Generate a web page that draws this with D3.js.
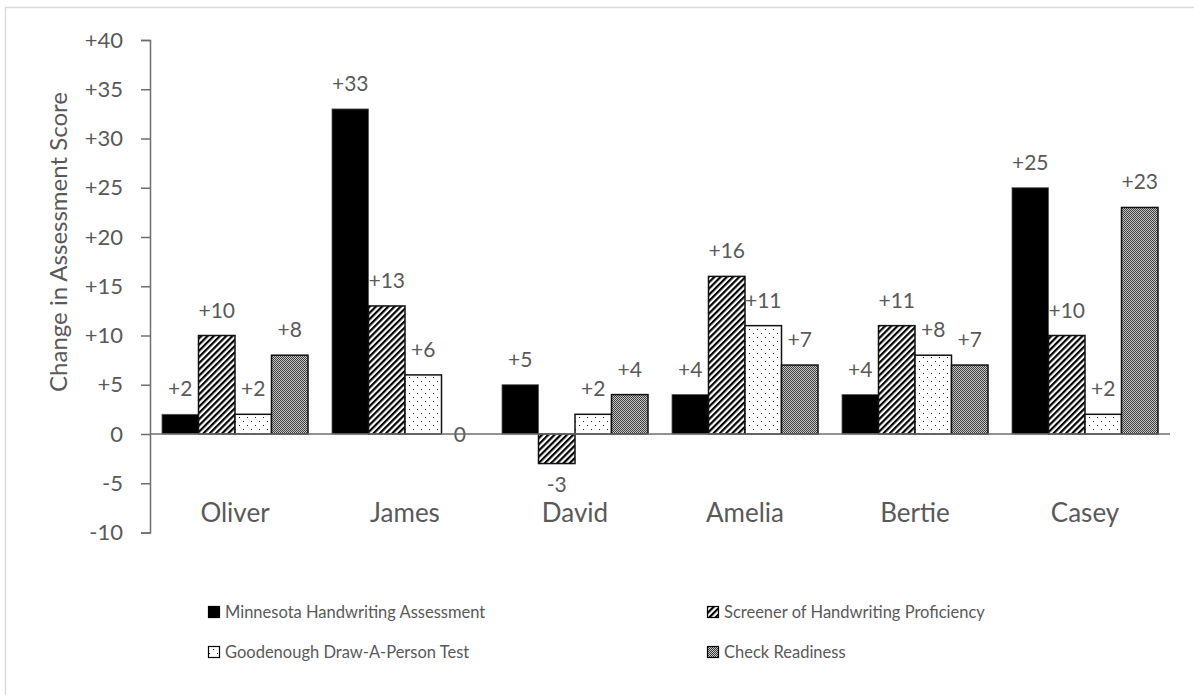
<!DOCTYPE html>
<html>
<head>
<meta charset="utf-8">
<script src="https://cdn.jsdelivr.net/npm/d3@7"></script>
<style>
  html, body { margin: 0; padding: 0; background: #fff; }
  svg { display: block; }
  text { font-family: Lato, "Open Sans", sans-serif; fill: #595959; }
</style>
</head>
<body>
<svg id="chart" width="1194" height="695"></svg>
<script>
// Students and assessment score changes (pre to post)
const students = ["Oliver", "James", "David", "Amelia", "Bertie", "Casey"];
const seriesNames = [
  "Minnesota Handwriting Assessment",
  "Screener of Handwriting Proficiency",
  "Goodenough Draw-A-Person Test",
  "Check Readiness"
];
const minnesota = [2, 33, 5, 4, 4, 25];
const screener  = [10, 13, -3, 16, 11, 10];
const goodenough = [2, 6, 2, 11, 8, 2];
const readiness = [8, 0, 4, 7, 7, 23];
const seriesValues = [minnesota, screener, goodenough, readiness];
const yTicks = [-10, -5, 0, 5, 10, 15, 20, 25, 30, 35, 40];

const svg = d3.select("#chart");

// Outer chart frame (left and top edges visible)
svg.append("rect")
  .attr("x", 5.5).attr("y", 7.5)
  .attr("width", 1300).attr("height", 800)
  .attr("fill", "none").attr("stroke", "#d9d9d9").attr("stroke-width", 1.5);

// Fill patterns
const defs = svg.append("defs");

const hatch = defs.append("pattern")
  .attr("id", "hatch").attr("patternUnits", "userSpaceOnUse")
  .attr("width", 4.4).attr("height", 10)
  .attr("patternTransform", "rotate(45)");
hatch.append("rect").attr("width", 4.4).attr("height", 10).attr("fill", "#fff");
hatch.append("line").attr("x1", 1.1).attr("x2", 1.1).attr("y1", 0).attr("y2", 10)
  .attr("stroke", "#000").attr("stroke-width", 2.2);

const dots = defs.append("pattern")
  .attr("id", "dots").attr("patternUnits", "userSpaceOnUse")
  .attr("width", 8).attr("height", 8);
dots.append("rect").attr("width", 8).attr("height", 8).attr("fill", "#fff");
dots.append("rect").attr("x", 1).attr("y", 1).attr("width", 1).attr("height", 1).attr("fill", "#222");
dots.append("rect").attr("x", 5).attr("y", 5).attr("width", 1).attr("height", 1).attr("fill", "#222");

const check = defs.append("pattern")
  .attr("id", "check").attr("patternUnits", "userSpaceOnUse")
  .attr("width", 2).attr("height", 2);
check.append("rect").attr("width", 2).attr("height", 2).attr("fill", "#c8c8c8");
check.append("rect").attr("x", 0).attr("y", 0).attr("width", 1).attr("height", 1).attr("fill", "#3c3c3c");
check.append("rect").attr("x", 1).attr("y", 1).attr("width", 1).attr("height", 1).attr("fill", "#3c3c3c");

const fills = ["#000", "url(#hatch)", "url(#dots)", "url(#check)"];

// Scales
const x0 = d3.scaleBand().domain(students).range([150, 1170]).paddingInner(0).paddingOuter(0);
const x1 = d3.scaleBand().domain(d3.range(4)).range([12, x0.bandwidth() - 12]).padding(0);
const y = d3.scaleLinear().domain([-10, 40]).range([532.5, 40]);

const fmt = v => v > 0 ? "+" + v : String(v);

// Y axis
const yAxis = svg.append("g")
  .attr("transform", "translate(150,0)")
  .call(d3.axisLeft(y).tickValues(yTicks).tickFormat(fmt).tickSize(9).tickPadding(18));
yAxis.select(".domain").attr("stroke", "#6e6e6e").attr("stroke-width", 1.5);
yAxis.selectAll(".tick line").attr("stroke", "#6e6e6e").attr("stroke-width", 1.5);
yAxis.selectAll(".tick text")
  .style("font-family", "Lato, sans-serif").style("font-size", "22px").attr("fill", "#595959");

// Y axis title
svg.append("text")
  .attr("transform", "translate(67,242) rotate(-90)")
  .attr("text-anchor", "middle")
  .style("font-size", "24px")
  .text("Change in Assessment Score");

// Bars
const groups = svg.append("g").selectAll("g")
  .data(students)
  .join("g")
  .attr("transform", d => `translate(${x0(d)},0)`);

groups.selectAll("rect")
  .data((d, i) => seriesValues.map((vals, s) => ({ s, v: vals[i] })))
  .join("rect")
  .attr("x", d => x1(d.s))
  .attr("width", x1.bandwidth())
  .attr("y", d => y(Math.max(0, d.v)))
  .attr("height", d => Math.abs(y(d.v) - y(0)))
  .attr("fill", d => fills[d.s])
  .attr("stroke", d => d.s === 0 ? "#555" : "#111")
  .attr("stroke-width", d => d.s === 0 ? 0.8 : 1.5);

// Value labels
groups.selectAll("text.val")
  .data((d, i) => seriesValues.map((vals, s) => ({ s, v: vals[i] })))
  .join("text")
  .attr("class", "val")
  .attr("x", d => x1(d.s) + x1.bandwidth() / 2)
  .attr("y", d => d.v > 0 ? y(d.v) - 18 : d.v < 0 ? y(d.v) + 28 : y(0) + 8)
  .attr("text-anchor", "middle")
  .style("font-size", "21px")
  .text(d => fmt(d.v));

// X axis line at zero
svg.append("line")
  .attr("x1", 150).attr("x2", 1170)
  .attr("y1", y(0)).attr("y2", y(0))
  .attr("stroke", "#6e6e6e").attr("stroke-width", 1.5);

// Category labels, placed low beneath the negative range
svg.append("g").selectAll("text")
  .data(students)
  .join("text")
  .attr("x", d => x0(d) + x0.bandwidth() / 2)
  .attr("y", 522)
  .attr("text-anchor", "middle")
  .style("font-size", "26px")
  .text(d => d);

// Legend
const legendPos = [[208, 612], [707, 612], [208, 652], [707, 652]];
const legend = svg.append("g").selectAll("g")
  .data(seriesNames)
  .join("g")
  .attr("transform", (d, i) => `translate(${legendPos[i][0]},${legendPos[i][1]})`);
legend.append("rect")
  .attr("x", 0.5).attr("y", -5.5).attr("width", 11).attr("height", 11)
  .attr("fill", (d, i) => fills[i])
  .attr("stroke", "#000").attr("stroke-width", 1.2);
legend.append("text")
  .attr("x", 17).attr("y", 6)
  .style("font-size", "16.5px")
  .text(d => d);
</script>
</body>
</html>
